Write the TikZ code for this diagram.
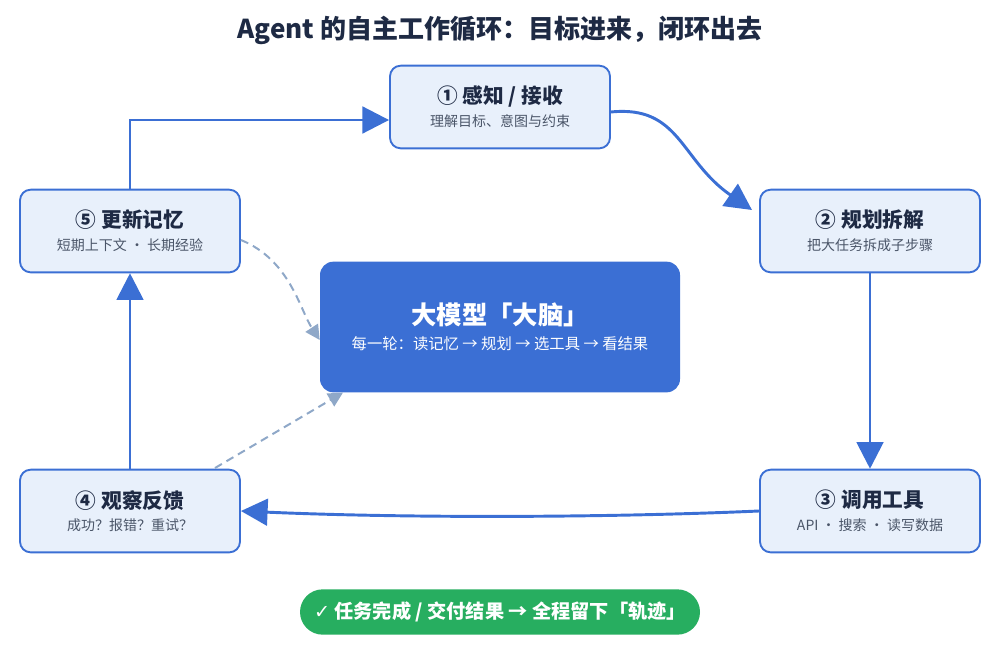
\documentclass[tikz,border=0pt]{standalone}
\usepackage{fontspec}
\setmainfont{Noto Sans CJK SC}
\newfontfamily\djv{DejaVu Sans}
\usetikzlibrary{arrows.meta}
\definecolor{navy}{HTML}{1E2A44}
\definecolor{bl}{HTML}{3B6FD4}
\definecolor{lb}{HTML}{E8F0FB}
\definecolor{gt}{HTML}{4A5568}
\definecolor{dsh}{HTML}{8FA8C8}
\definecolor{gr}{HTML}{27AE60}
\begin{document}
\begin{tikzpicture}[x=0.75pt,y=-0.75pt,
 box/.style={draw=bl,line width=1.4pt,fill=lb,rounded corners=8pt,minimum width=165pt,minimum height=62pt,align=center,inner sep=0pt},
 con/.style={draw=bl,line width=2.2pt,-{Triangle[length=20pt,width=20pt]}},
 dcon/.style={draw=dsh,line width=1.5pt,dashed,dash pattern=on 6pt off 4pt,-{Triangle[length=11pt,width=11pt]}}]
\useasboundingbox (0,0) rectangle (1000,650);
\node[text=navy,font=\bfseries\fontsize{19.5}{22}\selectfont] (title) at (500,30) {Agent 的自主工作循环：目标进来，闭环出去};
\newcommand\bx[4]{\node[box] (#1) at (#2) {{\color{navy}\bfseries\fontsize{15.5}{18}\selectfont #3}\\[5pt]{\color{gt}\fontsize{10.5}{12}\selectfont #4}};}
\bx{n1}{500,107}{① 感知 / 接收}{理解目标、意图与约束}
\bx{n2}{870,231}{② 规划拆解}{把大任务拆成子步骤}
\bx{n3}{870,511}{③ 调用工具}{API · 搜索 · 读写数据}
\bx{n4}{130,511}{④ 观察反馈}{成功？报错？重试？}
\bx{n5}{130,231}{⑤ 更新记忆}{短期上下文 · 长期经验}
\node[fill=bl,rounded corners=10pt,minimum width=270pt,minimum height=98pt,align=center,text=white] (brain) at (500,327)
 {{\bfseries\fontsize{19}{22}\selectfont 大模型「大脑」}\\[7pt]{\fontsize{11.5}{14}\selectfont 每一轮：读记忆 → 规划 → 选工具 → 看结果}};
\node[fill=gr,rounded corners=17pt,minimum width=300pt,minimum height=34pt,text=white,font=\bfseries\fontsize{14.4}{17}\selectfont] (done) at (500,612) {{\djv ✓} 任务完成 / 交付结果 → 全程留下「轨迹」};
\draw[con] (n5.north) -- (130,120) -- (n1.west |- 0,120);
\coordinate (a2) at (752,210);
\draw[con] (n1.east |- 0,112) .. controls (680,105) and (680,160) .. (a2);
\draw[con] (n2.south) -- (n3.north);
\draw[con] (n3.west) .. controls (600,518) and (400,518) .. (n4.east);
\draw[con] (n4.north) -- (n5.south);
\draw[dcon] (n5.east |- 0,240) .. controls (290,260) and (300,310) .. (brain.west |- 0,340);
\draw[dcon] (215,468) -- (brain.south west -| 343,0);
\end{tikzpicture}
\end{document}
